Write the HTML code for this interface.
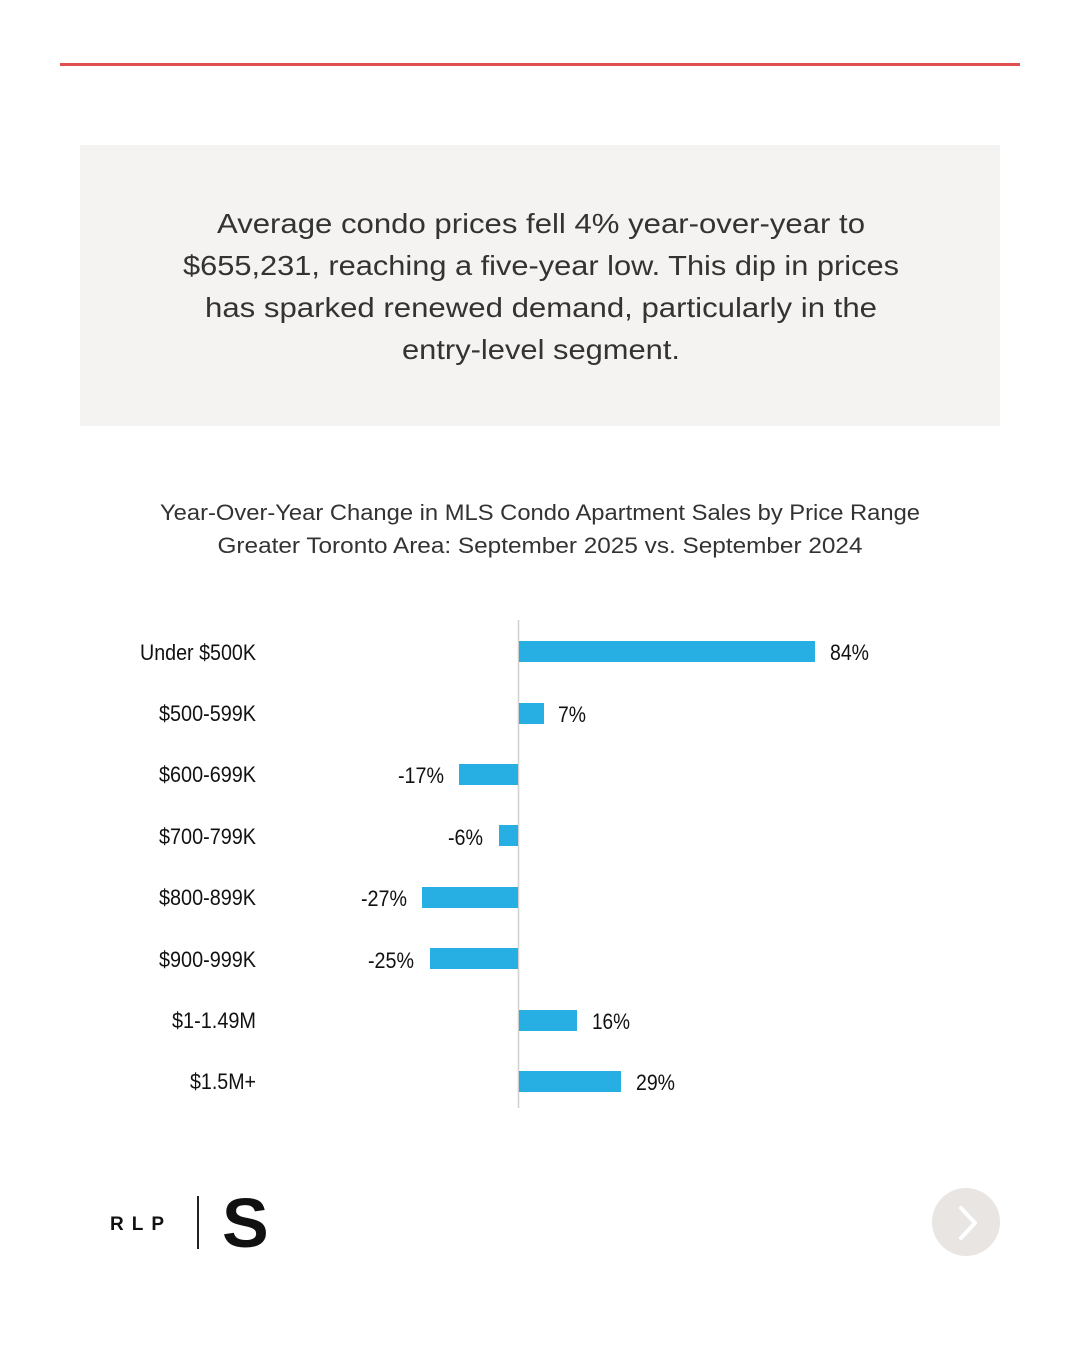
<!DOCTYPE html>
<html><head><meta charset="utf-8"><style>
html,body{margin:0;padding:0;background:#fff;}
svg{display:block;}
</style></head><body>
<svg width="1080" height="1350" viewBox="0 0 1080 1350" xmlns="http://www.w3.org/2000/svg">
<rect width="1080" height="1350" fill="#fff"/>
<rect x="60" y="63" width="960" height="3" fill="#e0504f"/>
<rect x="80" y="145" width="920" height="281" fill="#f4f3f1"/>
<g font-family="Liberation Sans, DejaVu Sans, sans-serif" font-size="28" fill="#333" text-anchor="middle">
<text x="541" y="233" textLength="648" lengthAdjust="spacingAndGlyphs">Average condo prices fell 4% year-over-year to</text>
<text x="541" y="275" textLength="716" lengthAdjust="spacingAndGlyphs">$655,231, reaching a five-year low. This dip in prices</text>
<text x="541" y="317" textLength="672" lengthAdjust="spacingAndGlyphs">has sparked renewed demand, particularly in the</text>
<text x="541" y="359" textLength="278" lengthAdjust="spacingAndGlyphs">entry-level segment.</text>
</g>
<g font-family="Liberation Sans, DejaVu Sans, sans-serif" font-size="22" fill="#333" text-anchor="middle">
<text x="540" y="520" textLength="760" lengthAdjust="spacingAndGlyphs">Year-Over-Year Change in MLS Condo Apartment Sales by Price Range</text>
<text x="540" y="553" textLength="645" lengthAdjust="spacingAndGlyphs">Greater Toronto Area: September 2025 vs. September 2024</text>
</g>
<line x1="518.5" y1="620" x2="518.5" y2="1108" stroke="#d0d0d0" stroke-width="1.5"/>
<g fill="#27aee3">
<rect x="519" y="641" width="296" height="21"/>
<rect x="519" y="703" width="25" height="21"/>
<rect x="459" y="764" width="59" height="21"/>
<rect x="499" y="825" width="19" height="21"/>
<rect x="422" y="887" width="96" height="21"/>
<rect x="430" y="948" width="88" height="21"/>
<rect x="519" y="1010" width="58" height="21"/>
<rect x="519" y="1071" width="102" height="21"/>
</g>
<g font-family="Liberation Sans, DejaVu Sans, sans-serif" font-size="22" fill="#111" text-anchor="end" lengthAdjust="spacingAndGlyphs">
<text x="256" y="660" textLength="116" lengthAdjust="spacingAndGlyphs">Under $500K</text>
<text x="256" y="721" textLength="97" lengthAdjust="spacingAndGlyphs">$500-599K</text>
<text x="256" y="782" textLength="97" lengthAdjust="spacingAndGlyphs">$600-699K</text>
<text x="256" y="844" textLength="97" lengthAdjust="spacingAndGlyphs">$700-799K</text>
<text x="256" y="905" textLength="97" lengthAdjust="spacingAndGlyphs">$800-899K</text>
<text x="256" y="967" textLength="97" lengthAdjust="spacingAndGlyphs">$900-999K</text>
<text x="256" y="1028" textLength="84" lengthAdjust="spacingAndGlyphs">$1-1.49M</text>
<text x="256" y="1089" textLength="66" lengthAdjust="spacingAndGlyphs">$1.5M+</text>
</g>
<g font-family="Liberation Sans, DejaVu Sans, sans-serif" font-size="22" fill="#111">
<text x="830" y="660" textLength="39" lengthAdjust="spacingAndGlyphs">84%</text>
<text x="558" y="722" textLength="28" lengthAdjust="spacingAndGlyphs">7%</text>
<text x="398" y="783" textLength="46" lengthAdjust="spacingAndGlyphs">-17%</text>
<text x="448" y="845" textLength="35" lengthAdjust="spacingAndGlyphs">-6%</text>
<text x="361" y="906" textLength="46" lengthAdjust="spacingAndGlyphs">-27%</text>
<text x="368" y="968" textLength="46" lengthAdjust="spacingAndGlyphs">-25%</text>
<text x="592" y="1029" textLength="38" lengthAdjust="spacingAndGlyphs">16%</text>
<text x="636" y="1090" textLength="39" lengthAdjust="spacingAndGlyphs">29%</text>
</g>
<g font-family="Liberation Sans, DejaVu Sans, sans-serif" font-weight="bold" fill="#111">
<text x="110" y="1230" font-size="19" textLength="66" lengthAdjust="spacing" letter-spacing="12">RLP</text>
<rect x="197" y="1196" width="2" height="53" fill="#222"/>
<text x="222" y="1247" font-size="70" font-weight="normal" style="font-weight:600">S</text>
</g>
<circle cx="966" cy="1222" r="34" fill="#e9e5e2"/>
<polyline points="961,1208 975,1223 961,1238" fill="none" stroke="#fff" stroke-width="4" stroke-linecap="round" stroke-linejoin="round"/>
</svg>
</body></html>
